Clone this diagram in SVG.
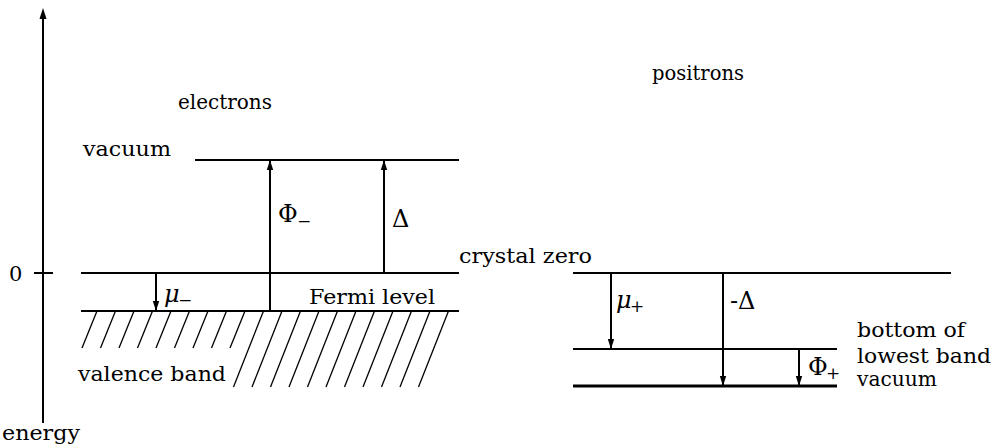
<svg xmlns="http://www.w3.org/2000/svg" width="995" height="447" viewBox="0 0 995 447">
<style>
text{font-family:"DejaVu Serif","Liberation Serif",serif;font-size:21px;fill:#000}
.ln{stroke:#000;stroke-width:2;fill:none}
.h{stroke:#000;stroke-width:1.3}
.ar{stroke:#000;stroke-width:2;marker-end:url(#ah)}
.m{font-style:italic}
.g{font-size:24px}
.s{font-size:17px}
</style>
<defs>
<marker id="ah" markerUnits="userSpaceOnUse" markerWidth="10" markerHeight="8" viewBox="0 0 10 8" refX="10" refY="4" orient="auto">
<path d="M0,0.8 L10,4 L0,7.2 z" fill="#000"/>
</marker>
</defs>
<g id="axis">
<line x1="43" y1="423" x2="43" y2="16" class="ln"/>
<path d="M43,8 L39.5,19 L46.5,19 z" fill="#000"/>
<line x1="34" y1="273" x2="53" y2="273" class="ln"/>
<text x="9" y="281">0</text>
<text x="2" y="440" textLength="78" lengthAdjust="spacingAndGlyphs">energy</text>
</g>
<g id="electrons">
<text x="178" y="109" textLength="94" lengthAdjust="spacingAndGlyphs">electrons</text>
<text x="83" y="156" textLength="88" lengthAdjust="spacingAndGlyphs">vacuum</text>
<line x1="195" y1="160" x2="459" y2="160" class="ln"/>
<line x1="81" y1="273" x2="459" y2="273" class="ln"/>
<line x1="81" y1="311" x2="459" y2="311" class="ln"/>
<text x="459" y="263" textLength="133" lengthAdjust="spacingAndGlyphs">crystal zero</text>
<text x="309" y="304" textLength="126" lengthAdjust="spacingAndGlyphs">Fermi level</text>
<text x="78" y="381" textLength="148" lengthAdjust="spacingAndGlyphs">valence band</text>
<g id="hatch">
<line class="h" x1="97" y1="311" x2="82" y2="348"/>
<line class="h" x1="115.5" y1="311" x2="100.5" y2="348"/>
<line class="h" x1="134" y1="311" x2="119" y2="348"/>
<line class="h" x1="152.5" y1="311" x2="137.5" y2="348"/>
<line class="h" x1="171" y1="311" x2="156" y2="348"/>
<line class="h" x1="189.5" y1="311" x2="174.5" y2="348"/>
<line class="h" x1="208" y1="311" x2="193" y2="348"/>
<line class="h" x1="226.5" y1="311" x2="211.5" y2="348"/>
<line class="h" x1="245" y1="311" x2="230" y2="348"/>
<line class="h" x1="263.5" y1="311" x2="233.5" y2="387"/>
<line class="h" x1="282" y1="311" x2="252" y2="387"/>
<line class="h" x1="300.5" y1="311" x2="270.5" y2="387"/>
<line class="h" x1="319" y1="311" x2="289" y2="387"/>
<line class="h" x1="337.5" y1="311" x2="307.5" y2="387"/>
<line class="h" x1="356" y1="311" x2="326" y2="387"/>
<line class="h" x1="374.5" y1="311" x2="344.5" y2="387"/>
<line class="h" x1="393" y1="311" x2="363" y2="387"/>
<line class="h" x1="411.5" y1="311" x2="381.5" y2="387"/>
<line class="h" x1="430" y1="311" x2="400" y2="387"/>
<line class="h" x1="448.5" y1="311" x2="418.5" y2="387"/>
</g>
<text x="278" y="222" class="g">Φ</text>
<text x="297" y="227" class="s">−</text>
<text x="392" y="227" class="g">Δ</text>
<text x="164" y="302" class="m g">μ</text>
<text x="178" y="306" class="s">−</text>
</g>
<g id="positrons">
<text x="652" y="80" textLength="92" lengthAdjust="spacingAndGlyphs">positrons</text>
<line x1="573" y1="273" x2="951" y2="273" class="ln"/>
<line x1="573" y1="349" x2="837" y2="349" class="ln"/>
<line x1="573" y1="386" x2="837" y2="386" stroke="#000" stroke-width="3"/>
<text x="616" y="308" class="m g">μ</text>
<text x="630" y="312" class="s">+</text>
<text x="730" y="309" class="g">-Δ</text>
<text x="808" y="375" class="g">Φ</text>
<text x="826" y="379" class="s">+</text>
<text x="857" y="337" textLength="108" lengthAdjust="spacingAndGlyphs">bottom of</text>
<text x="857" y="363" textLength="134" lengthAdjust="spacingAndGlyphs">lowest band</text>
<text x="857" y="386" textLength="80" lengthAdjust="spacingAndGlyphs">vacuum</text>
</g>
<g id="connectors">
<line x1="270" y1="311" x2="270" y2="160" class="ar" stroke-width="2.6"/>
<line x1="384" y1="273" x2="384" y2="160" class="ar"/>
<line x1="156" y1="273" x2="156" y2="311" class="ar"/>
<line x1="611" y1="273" x2="611" y2="349" class="ar"/>
<line x1="723" y1="273" x2="723" y2="386" class="ar"/>
<line x1="799" y1="349" x2="799" y2="386" class="ar"/>
</g>
</svg>
